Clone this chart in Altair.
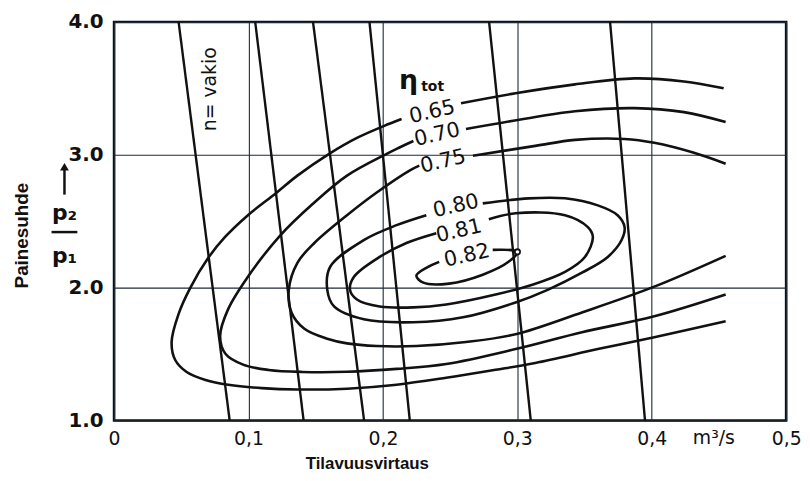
import altair as alt
import pandas as pd

# ---------------- data ----------------
# speed lines (n = vakio): flow at p2/p1 = 4.0 (top) and at p2/p1 = 1.0 (bottom)
speed_top_x = [0.048, 0.105, 0.148, 0.190, 0.279, 0.369]
speed_bot_x = [0.086, 0.141, 0.186, 0.220, 0.310, 0.395]

# efficiency contours (eta_tot); segments are split where the value label sits
eta065_a_x = [0.4535, 0.4240, 0.3872, 0.3429, 0.2987, 0.2581]
eta065_a_y = [3.500, 3.552, 3.575, 3.530, 3.463, 3.388]
eta065_b_x = [0.2139, 0.2006, 0.1807, 0.1600, 0.1364, 0.1202, 0.0996, 0.0826, 0.0701, 0.0568,
              0.0479, 0.0428, 0.0455, 0.0540, 0.0680, 0.0850, 0.1100, 0.1364, 0.1733, 0.2102,
              0.2471, 0.2839, 0.3134, 0.3599, 0.4019, 0.4550]
eta065_b_y = [3.269, 3.216, 3.127, 3.007, 2.843, 2.709, 2.545, 2.381, 2.224, 2.000,
              1.799, 1.590, 1.455, 1.365, 1.305, 1.268, 1.243, 1.233, 1.239, 1.269,
              1.321, 1.381, 1.433, 1.537, 1.627, 1.746]

eta070_a_x = [0.4550, 0.4240, 0.3872, 0.3429, 0.3134, 0.2618]
eta070_a_y = [3.246, 3.321, 3.351, 3.328, 3.284, 3.194]
eta070_b_x = [0.2227, 0.2102, 0.2028, 0.1733, 0.1475, 0.1232, 0.0996, 0.0848, 0.0789, 0.0830,
              0.0960, 0.1150, 0.1400, 0.1733, 0.2102, 0.2471, 0.2987, 0.3481, 0.4019, 0.4550]
eta070_b_y = [3.104, 3.045, 3.007, 2.843, 2.627, 2.388, 2.082, 1.836, 1.634, 1.500,
              1.420, 1.380, 1.365, 1.366, 1.388, 1.425, 1.537, 1.664, 1.784, 1.948]

eta075_a_x = [0.4550, 0.4314, 0.4019, 0.3798, 0.3429, 0.3134, 0.2670]
eta075_a_y = [2.933, 3.015, 3.090, 3.119, 3.112, 3.067, 2.993]
eta075_b_x = [0.2271, 0.2198, 0.1954, 0.1733, 0.1490, 0.1364, 0.1300, 0.1320, 0.1416, 0.1586,
              0.1733, 0.1954, 0.2249, 0.2618, 0.2987, 0.3481, 0.4019, 0.4550]
eta075_b_y = [2.918, 2.881, 2.716, 2.545, 2.336, 2.187, 1.985, 1.813, 1.690, 1.615,
              1.580, 1.560, 1.560, 1.590, 1.649, 1.813, 2.007, 2.239]

eta080_x = [0.2743, 0.3083, 0.3355, 0.3599, 0.3746, 0.3798, 0.3776, 0.3673, 0.3481, 0.3230,
            0.2987, 0.2596, 0.2227, 0.1858, 0.1637, 0.1586, 0.1608, 0.1858, 0.2102, 0.2323]
eta080_y = [2.634, 2.672, 2.672, 2.619, 2.545, 2.455, 2.358, 2.231, 2.112, 1.985,
            1.888, 1.776, 1.739, 1.761, 1.858, 1.985, 2.157, 2.358, 2.470, 2.545]

eta081_x = [0.2788, 0.2987, 0.3355, 0.3525, 0.3562, 0.3503, 0.3355, 0.3112, 0.2839, 0.2471,
            0.2227, 0.1976, 0.1807, 0.1755, 0.1785, 0.1976, 0.2175, 0.2397]
eta081_y = [2.515, 2.560, 2.545, 2.455, 2.381, 2.231, 2.119, 2.022, 1.948, 1.873,
            1.851, 1.858, 1.910, 1.985, 2.082, 2.231, 2.336, 2.410]

eta082_x = [0.2817, 0.3001, 0.2935, 0.2743, 0.2493, 0.2301, 0.2249, 0.2323, 0.2419]
eta082_y = [2.284, 2.269, 2.194, 2.097, 2.030, 2.037, 2.090, 2.149, 2.194]

# best point (small circle)
best_x = [0.3001]
best_y = [2.269]

# contour value labels
label_text = ["0.65", "0.70", "0.75", "0.80", "0.81", "0.82"]
label_x = [0.2367, 0.2404, 0.2448, 0.2544, 0.2566, 0.2625]
label_y = [3.321, 3.149, 2.948, 2.612, 2.425, 2.239]

x_ticks = [0, 0.1, 0.2, 0.3, 0.4, 0.5]
y_ticks = [1, 2, 3, 4]

# ---------------- tables ----------------
segments = {
    "065a": (eta065_a_x, eta065_a_y), "065b": (eta065_b_x, eta065_b_y),
    "070a": (eta070_a_x, eta070_a_y), "070b": (eta070_b_x, eta070_b_y),
    "075a": (eta075_a_x, eta075_a_y), "075b": (eta075_b_x, eta075_b_y),
    "080": (eta080_x, eta080_y), "081": (eta081_x, eta081_y), "082": (eta082_x, eta082_y),
}
rows = []
for name, (xs_, ys_) in segments.items():
    for i, (xv, yv) in enumerate(zip(xs_, ys_)):
        rows.append({"seg": name, "i": i, "x": xv, "y": yv})
contours = pd.DataFrame(rows)

srows = []
for k, (t, b) in enumerate(zip(speed_top_x, speed_bot_x)):
    srows.append({"line": k, "i": 0, "x": t, "y": 4.0})
    srows.append({"line": k, "i": 1, "x": b, "y": 1.0})
speed = pd.DataFrame(srows)

labels = pd.DataFrame({"t": label_text, "x": label_x, "y": label_y})
best = pd.DataFrame({"x": best_x, "y": best_y})

# ---------------- chart ----------------
xs = alt.Scale(domain=[0, 0.5], nice=False, zero=False)
ys = alt.Scale(domain=[1, 4], nice=False, zero=False)
INK = "#111111"

x_axis = alt.Axis(values=x_ticks, grid=True, ticks=False, domain=False,
                  labelExpr="datum.value == 0 ? '0' : replace(format(datum.value, '.1f'), '.', ',')",
                  labelFont="DejaVu Sans", labelFontSize=19, labelColor=INK, labelPadding=9,
                  labelFlush=False,
                  title="Tilavuusvirtaus", titleFont="Liberation Sans", titleFontSize=17,
                  titleFontWeight="bold", titleColor=INK, titleX=255, titleY=44,
                  titleAlign="center", titleBaseline="middle")
y_axis = alt.Axis(values=y_ticks, grid=True, ticks=False, domain=False, format=".1f",
                  labelFont="DejaVu Sans", labelFontSize=20, labelFontWeight="bold",
                  labelColor=INK, labelPadding=11, labelFlush=False,
                  title="Painesuhde", titleFont="Liberation Sans", titleFontSize=19,
                  titleFontWeight="bold", titleColor=INK, titleAngle=270,
                  titleX=-93, titleY=215, titleAlign="center", titleBaseline="middle")

speed_layer = alt.Chart(speed).mark_line(color=INK, strokeWidth=2.4).encode(
    x=alt.X("x:Q", scale=xs, axis=x_axis),
    y=alt.Y("y:Q", scale=ys, axis=y_axis),
    detail="line:N", order="i:Q")

contour_layer = alt.Chart(contours).mark_line(
    color=INK, strokeWidth=2.6, interpolate="catmull-rom").encode(
    x=alt.X("x:Q", scale=xs), y=alt.Y("y:Q", scale=ys),
    detail="seg:N", order="i:Q")

best_layer = alt.Chart(best).mark_point(
    shape="circle", size=28, filled=True, fill="white", stroke=INK, strokeWidth=1.8, opacity=1
).encode(x=alt.X("x:Q", scale=xs), y=alt.Y("y:Q", scale=ys))

label_layer = alt.Chart(labels).mark_text(
    font="DejaVu Sans", fontSize=21, color=INK, angle=347, align="center", baseline="middle"
).encode(x=alt.X("x:Q", scale=xs), y=alt.Y("y:Q", scale=ys), text="t:N")

# annotations
ann_eta = alt.Chart(pd.DataFrame({"x": [0.219], "y": [3.552], "t": ["η"]})).mark_text(
    font="DejaVu Sans", fontSize=27, fontWeight="bold", color=INK, align="center", baseline="middle"
).encode(x=alt.X("x:Q", scale=xs), y=alt.Y("y:Q", scale=ys), text="t:N")
ann_tot = alt.Chart(pd.DataFrame({"x": [0.237], "y": [3.512], "t": ["tot"]})).mark_text(
    font="DejaVu Sans", fontSize=14, fontWeight="bold", color=INK, align="center", baseline="middle"
).encode(x=alt.X("x:Q", scale=xs), y=alt.Y("y:Q", scale=ys), text="t:N")
ann_n = alt.Chart(pd.DataFrame({"x": [0.0715], "y": [3.493], "t": ["n= vakio"]})).mark_text(
    font="DejaVu Sans", fontSize=19, color=INK, angle=270, align="center", baseline="middle"
).encode(x=alt.X("x:Q", scale=xs), y=alt.Y("y:Q", scale=ys), text="t:N")
ann_unit = alt.Chart(pd.DataFrame({"x": [0.4462], "y": [0.866], "t": ["m³/s"]})).mark_text(
    font="DejaVu Sans", fontSize=19, color=INK, align="center", baseline="middle"
).encode(x=alt.X("x:Q", scale=xs), y=alt.Y("y:Q", scale=ys), text="t:N")

# p2/p1 with upward arrow, left of the axis
frac_x = -0.0369
ann_p = alt.Chart(pd.DataFrame({"x": [frac_x, frac_x], "y": [2.560, 2.239], "t": ["p₂", "p₁"]})).mark_text(
    font="DejaVu Sans", fontSize=22, fontWeight="bold", color=INK, align="center", baseline="middle"
).encode(x=alt.X("x:Q", scale=xs), y=alt.Y("y:Q", scale=ys), text="t:N")
ann_bar = alt.Chart(pd.DataFrame({"x": [-0.0465], "x2": [-0.0273], "y": [2.418]})).mark_rule(
    color=INK, strokeWidth=2.5
).encode(x=alt.X("x:Q", scale=xs), x2="x2:Q", y=alt.Y("y:Q", scale=ys))
ann_shaft = alt.Chart(pd.DataFrame({"x": [frac_x], "y": [2.700], "y2": [2.90]})).mark_rule(
    color=INK, strokeWidth=2.5
).encode(x=alt.X("x:Q", scale=xs), y=alt.Y("y:Q", scale=ys), y2="y2:Q")
ann_head = alt.Chart(pd.DataFrame({"x": [frac_x], "y": [2.910]})).mark_point(
    shape="triangle-up", size=80, filled=True, color=INK, opacity=1
).encode(x=alt.X("x:Q", scale=xs), y=alt.Y("y:Q", scale=ys))

chart = alt.layer(
    speed_layer, contour_layer, best_layer, label_layer,
    ann_eta, ann_tot, ann_n, ann_unit, ann_p, ann_bar, ann_shaft, ann_head
).properties(
    width=678, height=402,
    autosize=alt.AutoSizeParams(type="none"),
    padding={"left": 107, "top": 12, "right": 16, "bottom": 55},
    background="white",
).configure_view(
    stroke=INK, strokeWidth=2.6
).configure_axis(
    gridColor="#1d2a3a", gridWidth=1.1, gridOpacity=1
)

chart.save("out.html", embed_options={"renderer": "svg", "actions": False})
